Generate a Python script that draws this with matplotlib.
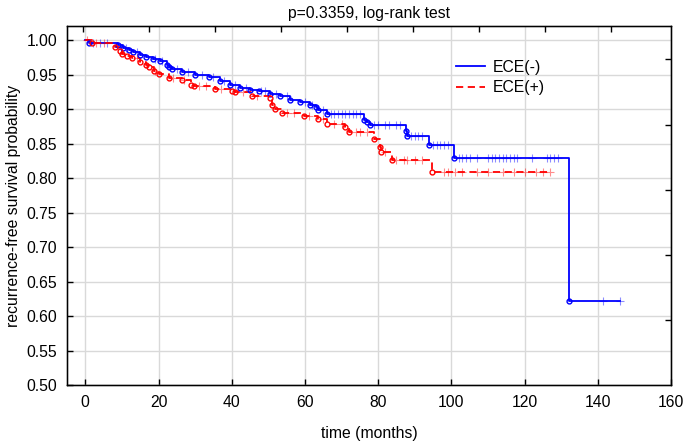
import matplotlib

matplotlib.use("Agg")
import matplotlib.pyplot as plt
import numpy as np

plt.rcParams["font.family"] = ["Liberation Sans", "DejaVu Sans"]

# Kaplan-Meier steps: event time (months) -> survival after it
neg_times = [0, 1.0, 9.0, 10.4, 12.0, 13.1, 15.0, 16.5, 18.5, 20.5, 22.3, 23.0,
             23.7, 26.4, 30.0, 33.7, 36.9, 39.6, 42.3, 45.0, 47.5, 50.5, 53.3,
             56.0, 58.7, 61.5, 63.0, 63.7, 66.0, 76.0, 77.0, 77.9, 87.6, 87.8,
             93.8, 100.6, 132.0]
neg_surv = [1.0, 0.997, 0.993, 0.989, 0.986, 0.983, 0.979, 0.976, 0.973, 0.970,
            0.965, 0.962, 0.958, 0.954, 0.950, 0.947, 0.941, 0.936, 0.931, 0.928,
            0.926, 0.922, 0.919, 0.914, 0.910, 0.907, 0.903, 0.899, 0.893, 0.885,
            0.881, 0.877, 0.869, 0.861, 0.848, 0.830, 0.6225]
neg_end = 146.0
neg_censor = [2, 4, 6, 11, 14, 19, 21, 25, 28, 32, 35, 38, 41, 44, 48, 49, 52,
              55, 60, 62, 65, 67, 68, 69, 70, 71, 72, 73, 74, 75, 79, 80, 82, 83,
              85, 86, 89, 90, 91, 92, 95, 96, 97, 98, 99, 102, 103, 104, 105, 107,
              110, 111, 112, 113, 114, 115, 116, 117, 118, 122, 126, 127, 128, 129,
              141.5, 146]

pos_times = [0, 1.8, 8.2, 9.6, 10.0, 11.5, 12.7, 15.0, 16.5, 17.3, 18.7, 20.0,
             22.8, 26.4, 29.0, 29.6, 35.5, 40.0, 41.0, 45.5, 50.5, 51.0, 51.9,
             53.8, 59.7, 63.7, 66.0, 71.0, 72.0, 78.8, 80.6, 80.7, 83.8, 94.7]
pos_surv = [1.0, 0.997, 0.990, 0.985, 0.980, 0.978, 0.975, 0.969, 0.965, 0.962,
            0.955, 0.952, 0.946, 0.943, 0.936, 0.934, 0.930, 0.926, 0.925, 0.920,
            0.916, 0.907, 0.900, 0.895, 0.891, 0.886, 0.879, 0.875, 0.867, 0.857,
            0.846, 0.838, 0.827, 0.809]
pos_end = 127.0
pos_censor = [0.5, 3, 5, 14, 19, 24, 27, 31, 33, 37, 43, 47, 55, 57, 61, 65, 68,
              70, 74, 75, 77, 82, 85, 87, 88, 90, 92, 98, 99, 101, 103, 107, 110,
              114, 117, 120, 123, 125, 127]

labels = ["ECE(-)", "ECE(+)"]
colors = ["#0000ff", "#ff0000"]


def km_at(times, surv, t):
    """Survival value of the step function at time t."""
    idx = np.searchsorted(times, t, side="right") - 1
    return np.array(surv)[idx]


fig = plt.figure(figsize=(6.85, 4.45), dpi=100)
ax = fig.add_axes([67 / 685, 1 - 385 / 445, 604 / 685, 359 / 445])

groups = [
    (neg_times, neg_surv, neg_end, neg_censor, "-"),
    (pos_times, pos_surv, pos_end, pos_censor, (0, (4, 2.5))),
]
for (times, surv, end, cens, ls), label, color in zip(groups, labels, colors):
    xs = list(times) + [end]
    ys = list(surv) + [surv[-1]]
    ax.step(xs, ys, where="post", color=color, lw=1.3, ls=ls, label=label, zorder=3)
    # censored observations
    cens = np.array(cens)
    ax.plot(cens, km_at(times, surv, cens), ls="none", marker="+", ms=6,
            mew=0.8, color=color, alpha=0.45, zorder=3)
    # events
    ax.plot(times[1:], surv[1:], ls="none", marker="o", ms=3.5, mfc="none",
            mec=color, mew=1.0, zorder=4)

fs = 11.3
ax.set_xlim(-5, 160)
ax.set_ylim(0.5, 1.021)
ax.set_xticks(np.arange(0, 161, 20))
ax.set_yticks(np.arange(0.5, 1.001, 0.05))
ax.set_yticklabels([f"{v:.2f}" for v in np.arange(0.5, 1.001, 0.05)])
ax.grid(True, color="#d9d9d9", lw=1.0)
ax.set_axisbelow(True)
ax.tick_params(direction="in", length=4, width=1, labelsize=fs, pad=7)
for spine in ax.spines.values():
    spine.set_linewidth(1.0)

# Statistica-style secondary ticks on top and right
top = ax.twiny()
top.set_xlim(ax.get_xlim())
top.set_xticks(np.arange(0, 145, 18) - 0.5)
top.tick_params(direction="in", length=4, width=1, labeltop=False)
right = ax.twinx()
right.set_ylim(ax.get_ylim())
right.set_yticks(0.5 + 0.0945 * np.arange(1, 6))
right.tick_params(direction="in", length=4, width=1, labelright=False)

ax.set_xlabel("time (months)", fontsize=fs, labelpad=12)
ax.set_ylabel("recurrence-free survival probability", fontsize=fs, labelpad=4)
ax.set_title("p=0.3359, log-rank test", fontsize=fs, pad=6)

ax.legend(loc="upper left", bbox_to_anchor=(0.62, 0.945), frameon=False,
          fontsize=fs, handlelength=1.9, handletextpad=0.45, labelspacing=0.35)

fig.savefig("out.png", dpi=100)
